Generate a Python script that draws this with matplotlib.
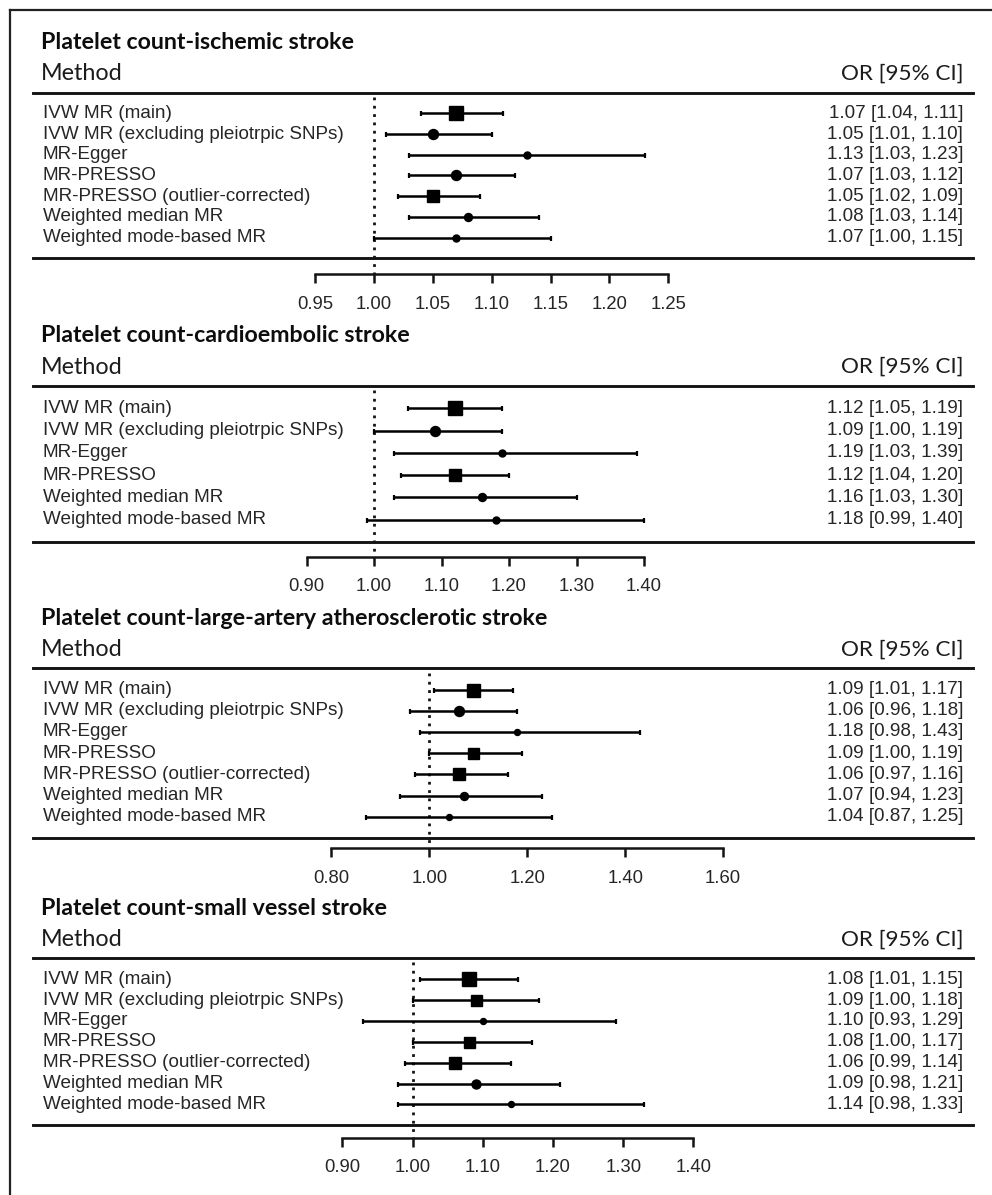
import matplotlib.pyplot as plt
from matplotlib.lines import Line2D

W, H = 992, 1195

# ---- data -------------------------------------------------------------
titles = [
    "Platelet count-ischemic stroke",
    "Platelet count-cardioembolic stroke",
    "Platelet count-large-artery atherosclerotic stroke",
    "Platelet count-small vessel stroke",
]

methods_7 = [
    "IVW MR (main)",
    "IVW MR (excluding pleiotrpic SNPs)",
    "MR-Egger",
    "MR-PRESSO",
    "MR-PRESSO (outlier-corrected)",
    "Weighted median MR",
    "Weighted mode-based MR",
]
methods_6 = [
    "IVW MR (main)",
    "IVW MR (excluding pleiotrpic SNPs)",
    "MR-Egger",
    "MR-PRESSO",
    "Weighted median MR",
    "Weighted mode-based MR",
]

or_ischemic = [1.07, 1.05, 1.13, 1.07, 1.05, 1.08, 1.07]
lo_ischemic = [1.04, 1.01, 1.03, 1.03, 1.02, 1.03, 1.00]
hi_ischemic = [1.11, 1.10, 1.23, 1.12, 1.09, 1.14, 1.15]
box_ischemic = [14, 10, 7, 10, 12, 8, 7]

or_cardio = [1.12, 1.09, 1.19, 1.12, 1.16, 1.18]
lo_cardio = [1.05, 1.00, 1.03, 1.04, 1.03, 0.99]
hi_cardio = [1.19, 1.19, 1.39, 1.20, 1.30, 1.40]
box_cardio = [14, 10, 7, 12, 8, 7]

or_large = [1.09, 1.06, 1.18, 1.09, 1.06, 1.07, 1.04]
lo_large = [1.01, 0.96, 0.98, 1.00, 0.97, 0.94, 0.87]
hi_large = [1.17, 1.18, 1.43, 1.19, 1.16, 1.23, 1.25]
box_large = [13, 10, 6, 11, 12, 8, 6]

or_small = [1.08, 1.09, 1.10, 1.08, 1.06, 1.09, 1.14]
lo_small = [1.01, 1.00, 0.93, 1.00, 0.99, 0.98, 0.98]
hi_small = [1.15, 1.18, 1.29, 1.17, 1.14, 1.21, 1.33]
box_small = [14, 11, 6, 11, 12, 9, 6]

ticks_ischemic = [0.95, 1.00, 1.05, 1.10, 1.15, 1.20, 1.25]
ticks_cardio = [0.90, 1.00, 1.10, 1.20, 1.30, 1.40]
ticks_large = [0.80, 1.00, 1.20, 1.40, 1.60]
ticks_small = [0.90, 1.00, 1.10, 1.20, 1.30, 1.40]

panels = [
    (titles[0], methods_7, or_ischemic, lo_ischemic, hi_ischemic, box_ischemic, ticks_ischemic),
    (titles[1], methods_6, or_cardio, lo_cardio, hi_cardio, box_cardio, ticks_cardio),
    (titles[2], methods_7, or_large, lo_large, hi_large, box_large, ticks_large),
    (titles[3], methods_7, or_small, lo_small, hi_small, box_small, ticks_small),
]

# layout per panel (pixels): x of 1.00, px per OR unit, top rule y, axis line y, rows below last rule
layout = [
    (374.0, 1177.0, 92.7, 274.0, 0.76),
    (374.0, 675.0, 386.0, 556.7, 0.67),
    (429.3, 489.6, 668.3, 848.3, 0.48),
    (412.5, 702.5, 958.3, 1137.7, 0.59),
]

LEFT, RIGHT = 33, 973
INK = "#141414"
TXT = "#262626"
rule_lw = 2.1
line_lw = 1.8

fig = plt.figure(figsize=(W / 100, H / 100), dpi=100)

# frame lines (left and top edges)
fig.add_artist(Line2D([10 / W, 10 / W], [0, 1 - 10 / H], color="#222222", lw=1.6))
fig.add_artist(Line2D([10 / W, 1], [1 - 10 / H, 1 - 10 / H], color="#222222", lw=1.6))

for (title, methods, ors, los, his, boxes, ticks), (x1, scale, top_px, axis_px, k) in zip(panels, layout):
    n = len(methods)
    ax = fig.add_axes([LEFT / W, 1 - axis_px / H, (RIGHT - LEFT) / W, (axis_px - top_px) / H])
    ax.set_xlim(1 + (LEFT - x1) / scale, 1 + (RIGHT - x1) / scale)
    ax.set_ylim(n + k, -1)

    for s in ["top", "left", "right"]:
        ax.spines[s].set_visible(False)
    ax.spines["bottom"].set_bounds(ticks[0], ticks[-1])
    ax.spines["bottom"].set_linewidth(1.8)
    ax.spines["bottom"].set_color(INK)
    ax.set_yticks([])
    ax.set_xticks(ticks)
    ax.set_xticklabels([f"{t:.2f}" for t in ticks], fontsize=13.3,
                       family="Liberation Sans", color=TXT)
    ax.tick_params(axis="x", length=6.5, width=1.8, color=INK, pad=9)
    ax.patch.set_alpha(0)

    # header / footer rules
    ax.axhline(-1, color=INK, lw=rule_lw, clip_on=False)
    ax.axhline(n, color=INK, lw=rule_lw, clip_on=False)

    # reference line at OR = 1
    ax.plot([1, 1], [-0.8, n + k], color=INK, lw=2.0, ls=(0, (1, 2.0)), zorder=1)

    rows = list(range(n))
    xerr = [[o - l for o, l in zip(ors, los)], [h - o for o, h in zip(ors, his)]]
    ax.errorbar(ors, rows, xerr=xerr, fmt="none", ecolor="black",
                elinewidth=line_lw, capsize=1.8, capthick=1.6, zorder=2)
    for o, r, b in zip(ors, rows, boxes):
        ax.plot(o, r, marker="s" if b >= 11 else "o", ms=b * 0.72,
                color="black", mec="black", zorder=3)

    tr = ax.get_yaxis_transform()
    for r, m, o, l, h in zip(rows, methods, ors, los, his):
        ax.text((43 - LEFT) / (RIGHT - LEFT), r, m, transform=tr, ha="left", va="center",
                fontsize=13.6, family="Liberation Sans", color=TXT)
        ax.text((963 - LEFT) / (RIGHT - LEFT), r, f"{o:.2f} [{l:.2f}, {h:.2f}]", transform=tr,
                ha="right", va="center", fontsize=13.6, family="Liberation Sans", color=TXT)

    # title and column heads, offset above the header rule
    ax.annotate(title, xy=((41 - LEFT) / (RIGHT - LEFT), 1), xycoords="axes fraction",
                xytext=(0, 50 * 0.72), textcoords="offset points", ha="left", va="center",
                fontsize=16.7, family="Lato", weight="bold", color="#0d0d0d")
    ax.annotate("Method", xy=((41 - LEFT) / (RIGHT - LEFT), 1), xycoords="axes fraction",
                xytext=(0, 19 * 0.72), textcoords="offset points", ha="left", va="center",
                fontsize=16.8, family="Lato", color="#1c1c1c")
    ax.annotate("OR [95% CI]", xy=((963 - LEFT) / (RIGHT - LEFT), 1), xycoords="axes fraction",
                xytext=(0, 19 * 0.72), textcoords="offset points", ha="right", va="center",
                fontsize=16.2, family="Lato", color="#1c1c1c")

fig.savefig("out.png", dpi=100, facecolor="white")
